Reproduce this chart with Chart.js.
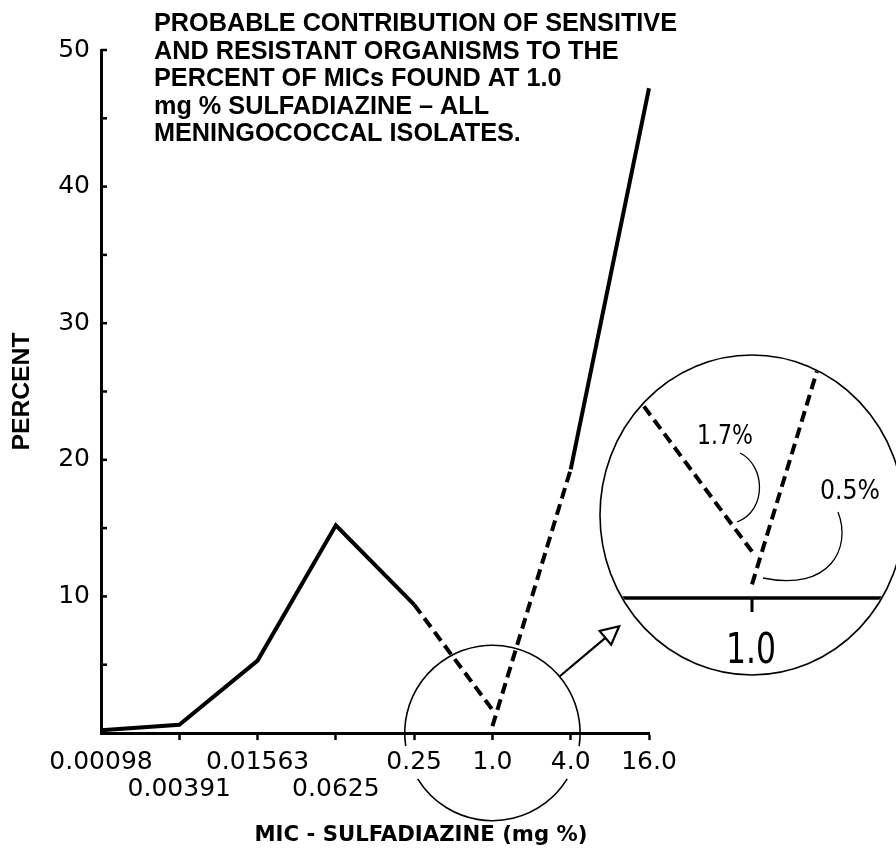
<!DOCTYPE html>
<html>
<head>
<meta charset="utf-8">
<title>MIC - Sulfadiazine</title>
<script src="https://cdn.jsdelivr.net/npm/chart.js@4.4.1/dist/chart.umd.min.js"></script>
<style>
  html, body { margin: 0; padding: 0; background: #fff; }
  #wrap { width: 896px; height: 856px; }
</style>
</head>
<body>
<div id="wrap"><canvas id="micChart" width="896" height="856"></canvas></div>
<script>
// MIC categories (mg %), two-fold dilutions
const categories = ["0.00098", "0.00391", "0.01563", "0.0625", "0.25", "1.0", "4.0", "16.0"];
// which labels sit on the lower row under the axis
const labelRow = [0, 1, 0, 1, 0, 0, 0, 0];
// percent of isolates, sensitive and resistant curves
const sensitive = [0.2, 0.6, 5.3, 15.2, 9.4, 1.7, null, null];
const resistant = [null, null, null, null, null, 0.5, 19.3, 47.2];
// segment i joins point i and i+1; true = probable (dashed) part
const sensitiveDashed = [false, false, false, false, true];
const resistantDashed = [false, false, false, false, false, true, false];
const yTicks = [0, 10, 20, 30, 40, 50];
const titleLines = [
  "PROBABLE CONTRIBUTION OF SENSITIVE",
  "AND RESISTANT ORGANISMS TO THE",
  "PERCENT OF MICs FOUND AT 1.0",
  "mg % SULFADIAZINE \u2013 ALL",
  "MENINGOCOCCAL ISOLATES."
];
const yTitle = "PERCENT";
const xTitle = "MIC - SULFADIAZINE (mg %)";

const DASH = [11, 6];

// draw text squeezed/stretched to a given width
function fitText(ctx, text, x, y, width) {
  const w = ctx.measureText(text).width;
  ctx.save();
  ctx.translate(x, y);
  ctx.scale(width / w, 1);
  ctx.fillText(text, 0, 0);
  ctx.restore();
}

const decorPlugin = {
  id: "decor",
  afterDraw(chart) {
    const { ctx, chartArea, scales: { x, y } } = chart;
    const step = x.getPixelForValue(1) - x.getPixelForValue(0);
    const y0 = y.getPixelForValue(0);
    const hit = 5; // index of 1.0

    ctx.save();
    ctx.strokeStyle = "#000";
    ctx.fillStyle = "#000";

    // inward ticks on the y axis, every 5 %
    ctx.lineWidth = 2.5;
    for (let v = 0; v <= yTicks[yTicks.length - 1]; v += 5) {
      const py = y.getPixelForValue(v);
      ctx.beginPath();
      ctx.moveTo(chartArea.left, py);
      ctx.lineTo(chartArea.left + 6, py);
      ctx.stroke();
    }

    // title block
    ctx.font = 'bold 25px "Liberation Sans"';
    ctx.textAlign = "left";
    ctx.textBaseline = "alphabetic";
    const sx = 523 / ctx.measureText(titleLines[0]).width;
    titleLines.forEach((line, i) => {
      ctx.save();
      ctx.translate(chartArea.left + 53, 31 + 27.5 * i);
      ctx.scale(sx, 1);
      ctx.fillText(line, 0, 0);
      ctx.restore();
    });

    // axis titles
    ctx.textAlign = "center";
    ctx.textBaseline = "middle";
    ctx.save();
    ctx.translate(22, (chartArea.top + chartArea.bottom) / 2);
    ctx.rotate(-Math.PI / 2);
    ctx.font = 'bold 24px "Liberation Sans"';
    fitText(ctx, yTitle, 0, 0, 118);
    ctx.restore();
    ctx.font = 'bold 21px "DejaVu Sans"';
    fitText(ctx, xTitle, (chartArea.left + chartArea.right) / 2 + 46, chartArea.bottom + 103, 333);

    // small circle round the 1.0 point, broken where the labels are
    const c1x = x.getPixelForValue(hit), c1y = y0, r1 = step * 1.12;
    ctx.lineWidth = 1.6;
    ctx.beginPath();
    ctx.arc(c1x, c1y, r1, Math.PI - 0.15, 2 * Math.PI + 0.15);
    ctx.stroke();
    ctx.beginPath();
    ctx.arc(c1x, c1y, r1, 0.55, Math.PI - 0.55);
    ctx.stroke();

    // arrow to the enlarged view
    const ang = -0.70, dx = Math.cos(ang), dy = Math.sin(ang);
    const ax = c1x + r1 * dx, ay = c1y + r1 * dy;
    const tx = ax + 78 * dx, ty = ay + 78 * dy;
    const bx = tx - 18 * dx, by = ty - 18 * dy;
    ctx.lineWidth = 2.2;
    ctx.beginPath();
    ctx.moveTo(ax, ay);
    ctx.lineTo(bx, by);
    ctx.stroke();
    ctx.beginPath();
    ctx.moveTo(tx, ty);
    ctx.lineTo(bx - 9 * dy, by + 9 * dx);
    ctx.lineTo(bx + 9 * dy, by - 9 * dx);
    ctx.closePath();
    ctx.fillStyle = "#fff";
    ctx.fill();
    ctx.stroke();
    ctx.fillStyle = "#000";

    // enlarged view of the 1.0 region
    const cx = x.getPixelForValue(categories.length - 1) + 103;
    const cy = y0 - 218;
    ctx.lineWidth = 1.6;
    ctx.beginPath();
    ctx.ellipse(cx, cy, 152, 160, 0, 0, 2 * Math.PI);
    ctx.stroke();

    ctx.save();
    ctx.beginPath();
    ctx.ellipse(cx, cy, 151, 159, 0, 0, 2 * Math.PI);
    ctx.clip();
    const axisY = cy + 83, m = 2;
    ctx.lineWidth = 3.5;
    ctx.beginPath();
    ctx.moveTo(cx - 170, axisY);
    ctx.lineTo(cx + 170, axisY);
    ctx.stroke();
    ctx.lineWidth = 3;
    ctx.beginPath();
    ctx.moveTo(cx, axisY);
    ctx.lineTo(cx, axisY + 14);
    ctx.stroke();

    const P = (i, v) => ({
      x: cx + (x.getPixelForValue(i) - x.getPixelForValue(hit)) * m,
      y: axisY - (y0 - y.getPixelForValue(v)) * m
    });
    ctx.lineWidth = 4;
    ctx.setLineDash(DASH);
    [[P(hit, sensitive[hit]), P(hit - 1, sensitive[hit - 1])],
     [P(hit, resistant[hit]), P(hit + 1, resistant[hit + 1])]].forEach(([p, q]) => {
      ctx.beginPath();
      ctx.moveTo(p.x, p.y);
      ctx.lineTo(q.x, q.y);
      ctx.stroke();
    });
    ctx.setLineDash([]);
    ctx.restore();

    // value labels with their leaders
    ctx.font = '27px "DejaVu Sans"';
    fitText(ctx, sensitive[hit] + "%", cx - 27, cy - 78, 56);
    fitText(ctx, resistant[hit] + "%", cx + 98, cy - 23, 60);
    ctx.font = '42px "DejaVu Sans"';
    fitText(ctx, categories[hit], cx - 1, axisY + 54, 50);

    ctx.lineWidth = 1.3;
    ctx.beginPath();
    ctx.moveTo(cx - 12, cy - 62);
    ctx.bezierCurveTo(cx + 13, cy - 50, cx + 16, cy - 5, cx - 15, cy + 7);
    ctx.stroke();
    ctx.beginPath();
    ctx.moveTo(cx + 86, cy - 3);
    ctx.bezierCurveTo(cx + 100, cy + 33, cx + 78, cy + 77, cx + 11, cy + 63);
    ctx.stroke();

    ctx.restore();
  }
};

const lineStyle = {
  borderColor: "#000",
  borderWidth: 4,
  pointRadius: 0,
  tension: 0,
  fill: false,
  borderJoinStyle: "miter",
  borderCapStyle: "butt"
};

const ctx = document.getElementById("micChart").getContext("2d");
new Chart(ctx, {
  type: "line",
  data: {
    labels: categories,
    datasets: [
      Object.assign({ label: "Sensitive", data: sensitive,
        segment: { borderDash: c => sensitiveDashed[c.p0DataIndex] ? DASH : undefined } }, lineStyle),
      Object.assign({ label: "Resistant", data: resistant,
        segment: { borderDash: c => resistantDashed[c.p0DataIndex] ? DASH : undefined } }, lineStyle)
    ]
  },
  options: {
    responsive: false,
    animation: false,
    layout: { padding: { top: 50, right: 247, bottom: 0, left: 0 } },
    plugins: { legend: { display: false }, tooltip: { enabled: false } },
    scales: {
      x: {
        type: "category",
        offset: false,
        grid: {
          drawOnChartArea: false,
          drawTicks: true,
          tickLength: 7,
          tickWidth: 2.5,
          tickColor: c => c.index === 0 ? "rgba(0,0,0,0)" : "#000"
        },
        border: { display: true, color: "#000", width: 3 },
        ticks: {
          color: "#000",
          font: { family: "DejaVu Sans", size: 25, lineHeight: 1.08 },
          padding: 9,
          maxRotation: 0,
          autoSkip: false,
          callback: (v, i) => labelRow[i] ? ["", categories[i]] : categories[i]
        },
        afterFit: s => { s.height = 123; }
      },
      y: {
        min: yTicks[0],
        max: yTicks[yTicks.length - 1],
        grid: { display: true, drawOnChartArea: false, drawTicks: false, tickLength: 0, color: "rgba(0,0,0,0)" },
        border: { display: true, color: "#000", width: 3 },
        ticks: {
          stepSize: 10,
          color: "#000",
          font: { family: "DejaVu Sans", size: 25 },
          padding: 11,
          callback: v => v === 0 ? "" : v
        },
        afterFit: s => { s.width = 101; }
      }
    }
  },
  plugins: [decorPlugin]
});
</script>
</body>
</html>
